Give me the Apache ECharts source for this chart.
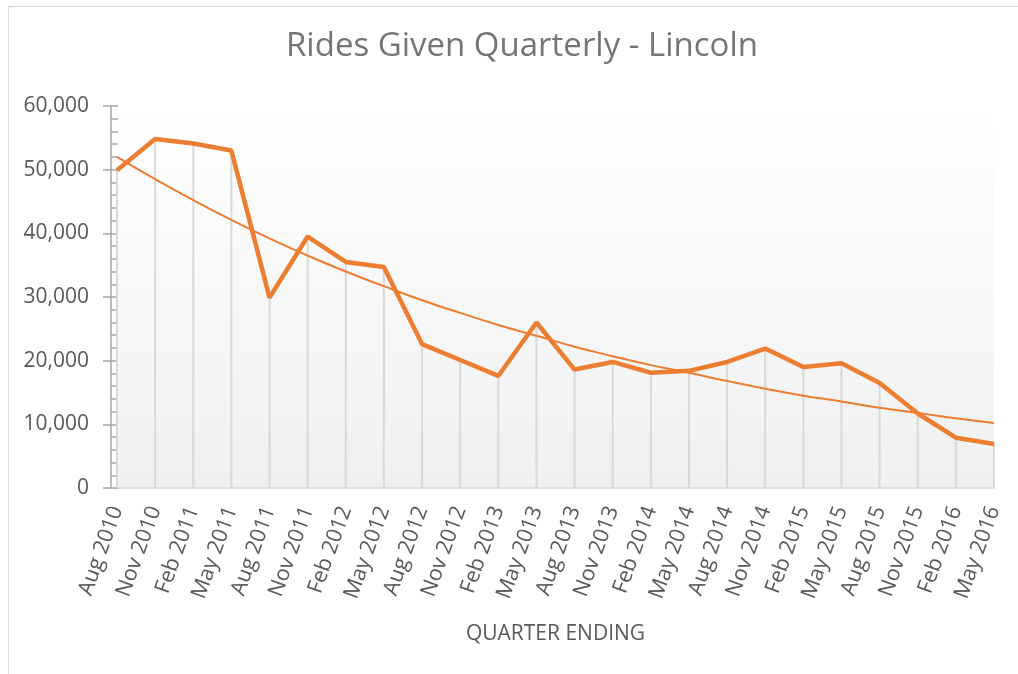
<!DOCTYPE html>
<html>
<head>
<meta charset="utf-8">
<title>Rides Given Quarterly - Lincoln</title>
<script src="https://cdn.jsdelivr.net/npm/echarts@6/dist/echarts.min.js"></script>
<style>
  html, body { margin: 0; padding: 0; background: #fff; }
  #chart { width: 1018px; height: 674px; }
</style>
</head>
<body>
<div id="chart"></div>
<script>
// quarters (x axis)
const quarters = [
  'Aug 2010', 'Nov 2010', 'Feb 2011', 'May 2011', 'Aug 2011', 'Nov 2011',
  'Feb 2012', 'May 2012', 'Aug 2012', 'Nov 2012', 'Feb 2013', 'May 2013',
  'Aug 2013', 'Nov 2013', 'Feb 2014', 'May 2014', 'Aug 2014', 'Nov 2014',
  'Feb 2015', 'May 2015', 'Aug 2015', 'Nov 2015', 'Feb 2016', 'May 2016'
];

// rides given per quarter
const rides = [
  49900, 54800, 54100, 53000, 29900, 39500,
  35500, 34700, 22600, 20100, 17600, 26000,
  18600, 19800, 18100, 18400, 19800, 21900,
  19000, 19600, 16500, 11700, 7900, 6900
];

// exponential trend line
const trend = [
  52000, 48500, 45200, 42100, 39200, 36500,
  34000, 31700, 29500, 27500, 25600, 23900,
  22200, 20700, 19300, 18100, 16800, 15600,
  14500, 13600, 12600, 11800, 10950, 10200
];

const yTicks = [0, 10000, 20000, 30000, 40000, 50000, 60000];

const orange = '#ED7D31';
const fontFamily = '"Open Sans", "Noto Sans", sans-serif';

const chart = echarts.init(document.getElementById('chart'));

const option = {
  animation: false,
  title: {
    text: 'Rides Given Quarterly - Lincoln',
    left: 517,
    top: 25,
    textAlign: 'center',
    textStyle: { color: '#757575', fontSize: 33, fontWeight: 'normal', fontFamily }
  },
  graphic: [{
    type: 'rect',
    shape: { x: 8.5, y: 6.5, width: 1100, height: 700 },
    style: { fill: 'none', stroke: '#d9d9d9', lineWidth: 1 },
    silent: true,
    z: -10
  }],
  grid: {
    left: 117,
    right: 24,
    top: 106,
    bottom: 186,
    show: true,
    borderWidth: 0,
    backgroundColor: {
      type: 'linear', x: 0, y: 0, x2: 0, y2: 1,
      colorStops: [
        { offset: 0, color: '#ffffff' },
        { offset: 1, color: '#f0f0f0' }
      ]
    }
  },
  xAxis: {
    type: 'category',
    data: quarters,
    boundaryGap: false,
    name: 'QUARTER ENDING',
    nameLocation: 'middle',
    nameGap: 136,
    nameTextStyle: { color: '#595959', fontSize: 21, fontFamily },
    axisLine: { lineStyle: { color: '#d9d9d9', width: 1.5 } },
    axisTick: { show: false },
    axisLabel: {
      rotate: 70,
      margin: 19,
      interval: 0,
      color: '#595959',
      fontSize: 21.5,
      fontFamily
    },
    splitLine: { show: false }
  },
  yAxis: [{
    type: 'value',
    min: yTicks[0],
    max: yTicks[yTicks.length - 1],
    interval: 10000,
    offset: 6,
    axisLine: { show: true, lineStyle: { color: '#a6a6a6', width: 1.5 } },
    axisTick: { show: true, inside: false, length: 8, lineStyle: { color: '#a6a6a6', width: 1.5 } },
    axisLabel: {
      margin: 22,
      color: '#595959',
      fontSize: 21,
      fontFamily,
      formatter: v => v.toLocaleString('en-US')
    },
    splitLine: { show: false }
  }, {
    type: 'value',
    min: yTicks[0],
    max: yTicks[yTicks.length - 1],
    interval: 10000,
    offset: 6,
    position: 'left',
    axisLine: { show: false },
    axisLabel: { show: false },
    axisTick: { show: true, inside: true, length: 7, lineStyle: { color: '#a6a6a6', width: 1.5 } },
    minorTick: { show: true, splitNumber: 5, length: 7, lineStyle: { color: '#a6a6a6', width: 1.5 } },
    splitLine: { show: false }
  }],
  series: [
    {
      // drop lines from each point to the axis
      name: 'drop',
      type: 'bar',
      data: rides,
      barWidth: 2,
      itemStyle: { color: '#d9d9d9' },
      silent: true,
      z: 1
    },
    {
      name: 'Trend',
      type: 'line',
      data: trend,
      showSymbol: false,
      smooth: true,
      lineStyle: { color: orange, width: 2 },
      z: 3
    },
    {
      name: 'Rides',
      type: 'line',
      data: rides,
      showSymbol: false,
      lineStyle: { color: orange, width: 4.5 },
      z: 4
    }
  ]
};

chart.setOption(option);
</script>
</body>
</html>
